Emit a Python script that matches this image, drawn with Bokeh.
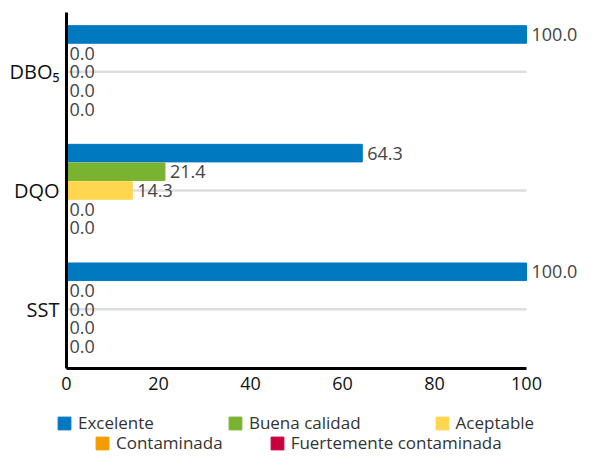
from bokeh.plotting import figure
from bokeh.models import ColumnDataSource, Range1d, Legend, LegendItem, FixedTicker
from bokeh.transform import dodge
from bokeh.core.properties import value
from bokeh.embed import file_html
from bokeh.resources import INLINE

categories = ["DBO₅", "DQO", "SST"]
series = ["Excelente", "Buena calidad", "Aceptable", "Contaminada", "Fuertemente contaminada"]
colors = ["#0079c1", "#7ab330", "#ffd64f", "#f39c00", "#c8003c"]
values = {
    "Excelente":               [100.0, 64.3, 100.0],
    "Buena calidad":           [0.0, 21.4, 0.0],
    "Aceptable":               [0.0, 14.3, 0.0],
    "Contaminada":             [0.0, 0.0, 0.0],
    "Fuertemente contaminada": [0.0, 0.0, 0.0],
}
x_ticks = [0, 20, 40, 60, 80, 100]

FONT = "Open Sans"
W, H = 579, 454

# category slots (top to bottom) on a numeric axis
ypos = [len(categories) - 1 - i for i in range(len(categories))]

# pixel layout of the plotting area inside the canvas
px_left, px_right100, px_top, px_bottom = 66, 526, 12, 368
ux = (px_right100 - px_left) / (x_ticks[-1] - x_ticks[0])
uy = (px_bottom - px_top) / len(categories)
x_start = -px_left / ux
x_end = (W - px_left) / ux
y_top = len(categories) - 0.5 + px_top / uy
y_bot = -0.5 - (H - px_bottom) / uy

p = figure(width=W, height=H, output_backend="svg", toolbar_location=None,
           x_range=Range1d(x_start, x_end), y_range=Range1d(y_bot, y_top),
           min_border=0)
p.outline_line_color = None
p.background_fill_color = None
p.border_fill_color = None
p.grid.visible = False

# horizontal grid lines across the value axis only
p.segment(x0=x_ticks[0], x1=x_ticks[-1], y0=ypos, y1=ypos,
          line_color="#dddddd", line_width=2.5)

offsets = [0.315, 0.158, 0.0, -0.158, -0.315]
bar_h = 0.148
renderers = []
for s, c, off in zip(series, colors, offsets):
    vals = values[s]
    src = ColumnDataSource(dict(
        y=ypos, v=vals,
        lbl=[f"{v:.1f}" for v in vals],
        xo=[3 if v == 0 else 5 for v in vals],
    ))
    r = p.hbar(y=dodge("y", off), right="v", left=0, height=bar_h,
               source=src, fill_color=c, line_color=c, line_width=1)
    renderers.append(r)
    p.text(x="v", y=dodge("y", off), text="lbl", source=src,
           x_offset="xo", text_baseline="middle", text_align="left",
           text_font=value(FONT), text_font_size="18px",
           text_color="#444444")

p.xaxis.ticker = FixedTicker(ticks=x_ticks)
p.xaxis.bounds = (x_ticks[0], x_ticks[-1])
p.xaxis.fixed_location = -0.5
p.yaxis.ticker = FixedTicker(ticks=ypos)
p.yaxis.major_label_overrides = {y: c for y, c in zip(ypos, categories)}
p.yaxis.bounds = (-0.5, len(categories) - 0.5)
p.yaxis.fixed_location = 0

for ax in (p.xaxis, p.yaxis):
    ax.axis_line_color = "black"
    ax.axis_line_width = 3
    ax.major_tick_line_color = None
    ax.minor_tick_line_color = None
    ax.major_tick_out = 0
    ax.major_tick_in = 0
    ax.major_label_text_font = FONT
    ax.major_label_text_color = "#111111"
p.xaxis.major_label_text_font_size = "18px"
p.xaxis.major_label_standoff = 8
p.yaxis.major_label_text_font_size = "20px"
p.yaxis.major_label_standoff = 7

items1 = [LegendItem(label=series[i], renderers=[renderers[i]]) for i in range(3)]
items2 = [LegendItem(label=series[i], renderers=[renderers[i]]) for i in range(3, 5)]
for items, sp, loc in ((items1, 73, (56, 20)), (items2, 46, (94, 0))):
    lg = Legend(items=items, orientation="horizontal", location=loc,
                spacing=sp, padding=0, margin=0,
                glyph_width=16, glyph_height=16, label_standoff=6, label_height=20,
                label_text_font=FONT, label_text_font_size="17px",
                label_text_color="#333333",
                border_line_color=None, background_fill_color=None)
    p.add_layout(lg, "center")

open("out.html", "w").write(file_html(p, INLINE))
